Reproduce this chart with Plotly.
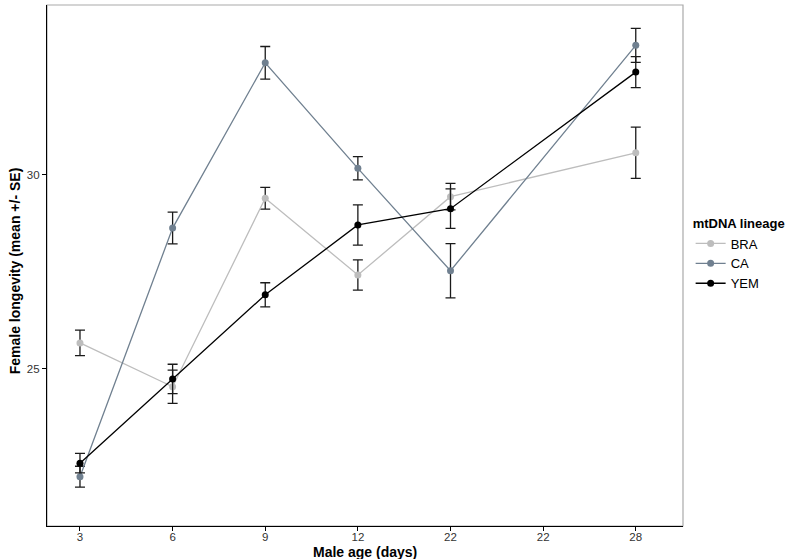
import plotly.graph_objects as go

tick_labels = ["3", "6", "9", "12", "22", "22", "28"]
x_index = [0, 1, 2, 3, 4, 6]

bra_mean = [25.67, 24.54, 29.40, 27.42, 29.44, 30.57]
bra_se = [0.33, 0.43, 0.28, 0.39, 0.34, 0.66]
ca_mean = [22.22, 28.63, 32.89, 30.17, 27.53, 33.34]
ca_se = [0.27, 0.41, 0.42, 0.30, 0.70, 0.44]
yem_mean = [22.57, 24.74, 26.91, 28.71, 29.13, 32.65]
yem_se = [0.25, 0.38, 0.31, 0.52, 0.51, 0.40]

series = [
    ("BRA", bra_mean, bra_se, "#bdbdbd"),
    ("CA", ca_mean, ca_se, "#708090"),
    ("YEM", yem_mean, yem_se, "#000000"),
]

fig = go.Figure()
for name, m, se, col in series:
    fig.add_trace(go.Scatter(
        x=x_index, y=m, mode="lines+markers", name=name,
        line=dict(color=col, width=1.3),
        marker=dict(color=col, size=7),
        error_y=dict(type="data", array=se, visible=True, color="#1a1a1a",
                     thickness=1.3, width=5),
    ))

font_family = "Liberation Sans, Arial, sans-serif"
tick_font = dict(family="Liberation Sans Narrow, Arial Narrow, Liberation Sans", size=11.5, color="#333")
fig.update_layout(
    width=800, height=559,
    margin=dict(l=47, r=117, t=5, b=33),
    plot_bgcolor="white", paper_bgcolor="white",
    font=dict(family=font_family, size=12, color="#333333"),
    showlegend=True,
    legend=dict(
        title=dict(text="<b>mtDNA lineage</b>", font=dict(size=13, color="#000")),
        x=1.012, xanchor="left", y=0.52, yanchor="middle",
        font=dict(size=13, color="#000"),
        tracegroupgap=0, itemwidth=30,
    ),
    xaxis=dict(
        tickmode="array", tickvals=list(range(len(tick_labels))), ticktext=tick_labels,
        range=[-0.356, 6.51], showgrid=False, zeroline=False, automargin=False,
        showline=True, linecolor="#000", linewidth=1.2,
        ticks="outside", ticklen=4, tickcolor="#000", tickfont=tick_font,
        ticklabelstandoff=-4,
    ),
    yaxis=dict(
        tickmode="array", tickvals=[25, 30], range=[20.95, 34.38],
        showgrid=False, zeroline=False, automargin=False,
        showline=True, linecolor="#000", linewidth=1.2,
        ticks="outside", ticklen=4, tickcolor="#000", tickfont=tick_font,
    ),
    annotations=[
        dict(text="<b>Male age (days)</b>", xref="paper", yref="paper", x=0.5, y=-0.05,
             xanchor="center", yanchor="middle", showarrow=False,
             font=dict(size=14, color="#000")),
        dict(text="<b>Female longevity (mean +/- SE)</b>", xref="paper", yref="paper",
             x=-0.051, y=0.49, xanchor="center", yanchor="middle", textangle=-90,
             showarrow=False, font=dict(size=14, color="#000")),
    ],
    shapes=[dict(type="rect", xref="paper", yref="paper", x0=0, y0=0, x1=1, y1=1,
                 line=dict(color="#aaaaaa", width=1.2), layer="below")],
)

fig.write_html("out.html", config={"displayModeBar": False},
               post_script="document.body.style.margin='0px';")
